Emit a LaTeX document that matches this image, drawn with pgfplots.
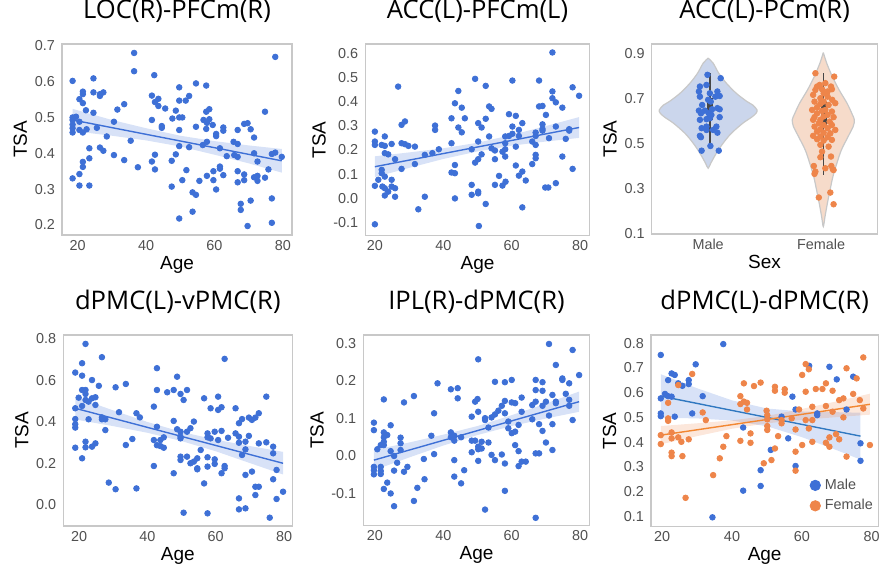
\documentclass[border=0pt]{standalone}
\usepackage{fontspec}
\setmainfont{Liberation Sans}
\newfontfamily\titlefont{Open Sans}
\usepackage{pgfplots}
\pgfplotsset{compat=1.18}
\definecolor{cblue}{RGB}{62,112,214}
\definecolor{corange}{RGB}{238,133,74}
\definecolor{mline}{RGB}{48,120,192}
\definecolor{oline}{RGB}{242,135,50}
\definecolor{framegray}{RGB}{200,200,200}
\definecolor{tickgray}{RGB}{80,80,80}
\definecolor{vblue}{RGB}{203,214,236}
\definecolor{vorange}{RGB}{246,219,202}
\definecolor{inner}{RGB}{70,70,70}
\pgfplotsset{
  panel/.style={scale only axis, anchor=south west,
    axis line style={draw=framegray, line width=0.6pt},
    tick style={draw=none},
    ticklabel style={font=\fontsize{7.2}{8}\selectfont, text=tickgray},
    label style={font=\fontsize{9.5}{11}\selectfont},
    title style={font=\titlefont\fontsize{12.8}{14}\selectfont, at={(0.5,1)}, anchor=base, yshift=6.5pt},
    /pgf/number format/assume math mode=true,
    yticklabel style={/pgf/number format/fixed, /pgf/number format/fixed zerofill, /pgf/number format/precision=1},
    ylabel=TSA,
    ylabel style={yshift=-3pt},
    xlabel style={yshift=4pt},
    xticklabel style={yshift=1pt},
  },
  agepanel/.style={panel, xtick={20,40,60,80}, xlabel=Age},
  scat/.style={only marks, mark=*, mark size=1.4pt, color=#1, forget plot},
  band/.style={fill=#1, fill opacity=0.2, draw=none, forget plot},
  rline/.style={color=#1, line width=0.7pt, no marks, forget plot},
}
\begin{document}
\begin{tikzpicture}
\useasboundingbox (0,0) rectangle (439.5pt,282.5pt);
% ---------- Panel 1 ----------
\begin{axis}[agepanel, at={(31pt,165pt)}, width=115pt, height=95.5pt,
  xmin=15.4, xmax=82.7, ymin=0.172, ymax=0.705, ytick={0.2,0.3,0.4,0.5,0.6,0.7},
  title={LOC(R)-PFCm(R)}]
\addplot[scat=cblue] coordinates {
(18.5,0.602)(18.5,0.500)(18.5,0.493)(18.5,0.480)(18.5,0.470)(18.5,0.458)(18.5,0.330)
(19.5,0.502)(20.5,0.551)(20.5,0.488)(20.5,0.465)(20.5,0.342)(20.5,0.310)
(21.5,0.572)(21.5,0.565)(21.5,0.540)(21.5,0.458)(21.5,0.376)(21.5,0.362)
(22.4,0.520)(22.6,0.467)(23.4,0.414)(23.4,0.386)(23.4,0.310)
(24.6,0.609)(24.6,0.570)(24.6,0.513)(25.6,0.471)
(26.5,0.565)(26.5,0.560)(26.5,0.416)(27.5,0.407)(27.5,0.570)
(28.5,0.447)(30.6,0.488)(30.6,0.395)(31.6,0.522)(33.6,0.537)(33.6,0.381)
(35.5,0.435)(36.5,0.680)(36.5,0.629)(37.6,0.361)
(41.7,0.561)(41.7,0.493)(41.7,0.377)(42.4,0.618)(42.6,0.543)(42.6,0.396)(42.6,0.355)
(43.6,0.552)(43.6,0.532)(44.6,0.476)(44.6,0.471)(45.6,0.525)
(47.5,0.379)(47.5,0.307)(47.7,0.497)(48.7,0.519)(48.7,0.397)
(49.7,0.584)(49.7,0.547)(49.7,0.500)(49.7,0.465)(49.7,0.420)(49.7,0.218)
(50.6,0.500)(50.6,0.325)(51.6,0.547)(51.8,0.353)(52.6,0.560)(52.6,0.417)
(53.6,0.291)(53.6,0.237)(54.6,0.595)(54.6,0.474)(54.6,0.284)(55.6,0.323)
(56.6,0.423)(56.8,0.493)(57.6,0.589)(57.6,0.516)(57.6,0.468)(57.8,0.432)(57.8,0.337)(57.8,0.485)
(58.5,0.523)(58.5,0.495)(59.5,0.479)(59.7,0.325)(59.7,0.350)
(60.5,0.454)(60.5,0.448)(60.5,0.299)(61.6,0.414)(61.6,0.363)(61.6,0.357)
(62.6,0.472)(62.6,0.463)(62.6,0.339)(63.6,0.392)
(65.6,0.432)(65.8,0.395)(66.8,0.465)(66.8,0.426)(66.8,0.390)(66.8,0.350)(66.8,0.319)
(67.7,0.259)(67.7,0.242)(68.7,0.482)(68.7,0.341)(68.7,0.325)(69.7,0.484)(69.7,0.197)
(70.6,0.467)(70.6,0.268)(71.6,0.444)(71.6,0.400)(71.6,0.333)
(72.6,0.377)(72.6,0.337)(72.6,0.323)(74.8,0.516)(74.8,0.332)(75.8,0.355)
(76.8,0.398)(76.8,0.274)(76.8,0.206)(77.8,0.669)(77.8,0.402)(79.7,0.390)
};
\addplot[band=cblue] coordinates {(18.5,0.524)(30,0.493)(40,0.470)(50,0.449)(60,0.434)(70,0.422)(79.7,0.412)
(79.7,0.346)(70,0.372)(60,0.396)(50,0.419)(40,0.436)(30,0.449)(18.5,0.462)};
\addplot[rline=cblue] coordinates {(18.5,0.493)(79.7,0.379)};
\end{axis}
% ---------- Panel 2 ----------
\begin{axis}[agepanel, at={(182.65pt,164.65pt)}, width=112.2pt, height=95.85pt,
  xmin=17.2, xmax=82.8, ymin=-0.154, ymax=0.638, ytick={-0.1,0,0.1,0.2,0.3,0.4,0.5,0.6},
  title={ACC(L)-PFCm(L)}]
\addplot[scat=cblue] coordinates {
(20,0.276)(20,0.235)(20,0.221)(20,0.052)(20,-0.107)(21,0.077)
(22,0.221)(22,0.118)(22,0.104)(22.2,0.049)
(22.9,0.256)(22.9,0.217)(22.9,0.187)(22.9,0.090)(22.9,0.042)(22.9,0.012)
(23.9,0.182)(23.9,0.028)(24.9,0.225)(24.9,0.077)(24.9,0.049)
(25.9,0.162)(25.9,0.042)(25.9,0.007)(26.8,0.462)
(27.8,0.304)(27.8,0.228)(27.8,0.122)(28.8,0.318)(28.8,0.224)(29.8,0.217)
(31.7,0.214)(31.7,0.142)(32.7,-0.045)(34.6,0.180)(34.6,0.007)(36.8,0.187)
(37.6,0.301)(37.6,0.283)(38.7,0.203)
(42.4,0.331)(42.4,0.228)(42.4,0.107)(43.4,0.393)(43.4,0.138)(43.4,0.104)(43.4,0.000)
(44.4,0.444)(44.4,0.293)(45.4,0.273)(45.4,0.375)(46.3,0.331)
(48.3,0.203)(48.3,0.056)(48.3,0.015)(49.3,0.494)(49.3,0.148)
(50.2,0.311)(50.2,0.235)(50.2,0.162)(50.2,0.028)(50.2,0.021)(50.4,-0.114)
(51.2,0.293)(51.2,0.182)(52.4,0.465)(52.4,0.329)(52.4,-0.023)
(53.4,0.256)(53.4,0.380)(54.1,0.370)(54.1,0.207)(55.1,0.198)(55.1,0.162)(55.1,0.056)
(56.3,0.093)(57.3,0.193)(58.1,0.203)(58.1,0.173)(58.1,0.228)(58.1,0.256)(57.3,0.053)(58.2,0.069)
(59.2,0.348)(59.2,0.258)(60.2,0.487)(60.2,0.297)(60.2,0.267)
(61.2,0.341)(61.2,0.214)(61.2,0.136)(62.1,0.283)(62.1,0.258)(62.1,0.094)
(63.1,0.311)(63.1,0.111)(63.1,-0.037)(64.1,0.074)
(66.0,0.235)(66.0,0.142)(67.0,0.272)(67.0,0.258)(67.0,0.221)(67.0,0.180)(67.0,0.166)
(68.0,0.380)(68.0,0.487)(69.0,0.382)(69.0,0.306)(69.0,0.287)(69.0,0.280)(70.0,0.345)
(69.8,0.045)(70.7,0.045)(70.9,0.249)(71.9,0.603)(71.9,0.442)(71.9,0.414)
(72.9,0.397)(72.9,0.297)(72.9,0.063)(74.8,0.375)(74.8,0.173)(75.8,0.246)
(76.8,0.286)(76.8,0.280)(77.8,0.459)(77.8,0.122)(79.7,0.424)
};
\addplot[band=cblue] coordinates {(20,0.174)(30,0.190)(40,0.207)(50,0.230)(60,0.262)(70,0.299)(79.7,0.336)
(79.7,0.250)(70,0.235)(60,0.218)(50,0.194)(40,0.163)(30,0.126)(20,0.088)};
\addplot[rline=cblue] coordinates {(20,0.131)(79.7,0.293)};
\end{axis}
% ---------- Panel 3 ----------
\begin{axis}[panel, at={(325.85pt,165.5pt)}, width=112.9pt, height=95pt,
  xmin=-0.5, xmax=1.5, ymin=0.097, ymax=0.941, ytick={0.1,0.3,0.5,0.7,0.9},
  xtick={0,1}, xticklabels={Male,Female}, xlabel=Sex,
  title={ACC(L)-PCm(R)}]
\addplot[fill=vblue, draw=framegray, line width=0.6pt, smooth, tension=0.5, forget plot] coordinates {
(0,0.878)(0.044,0.856)(0.094,0.811)(0.161,0.767)(0.249,0.722)(0.345,0.685)(0.395,0.670)(0.433,0.648)(0.424,0.633)(0.386,0.616)(0.307,0.589)(0.205,0.544)(0.132,0.5)(0.073,0.456)(0.023,0.411)(0,0.389)
(-0.023,0.411)(-0.073,0.456)(-0.132,0.5)(-0.205,0.544)(-0.307,0.589)(-0.386,0.616)(-0.424,0.633)(-0.433,0.648)(-0.395,0.670)(-0.345,0.685)(-0.249,0.722)(-0.161,0.767)(-0.094,0.811)(-0.044,0.856)(0,0.878)};
\addplot[fill=vorange, draw=framegray, line width=0.6pt, smooth, tension=0.5, forget plot] coordinates {
(1.02,0.903)(1.05,0.856)(1.10,0.796)(1.16,0.737)(1.23,0.678)(1.275,0.63)(1.295,0.604)(1.285,0.575)(1.24,0.53)(1.18,0.47)(1.14,0.411)(1.105,0.352)(1.08,0.293)(1.056,0.233)(1.035,0.174)(1.02,0.13)
(1.005,0.174)(0.984,0.233)(0.96,0.293)(0.935,0.352)(0.90,0.411)(0.86,0.47)(0.80,0.53)(0.755,0.575)(0.745,0.604)(0.765,0.63)(0.81,0.678)(0.88,0.737)(0.94,0.796)(0.99,0.856)(1.02,0.903)};
\addplot[inner, line width=0.8pt, forget plot] coordinates {(0.015,0.811)(0.015,0.5)};
\addplot[inner, line width=3pt, forget plot] coordinates {(0.015,0.700)(0.015,0.604)};
\addplot[inner, line width=0.8pt, forget plot] coordinates {(1.023,0.811)(1.023,0.359)};
\addplot[inner, line width=3pt, forget plot] coordinates {(1.023,0.685)(1.023,0.574)};
\addplot[scat=cblue] coordinates {
(-0.006,0.804)(0.111,0.789)(-0.015,0.759)(-0.073,0.752)(-0.082,0.730)(0.015,0.722)(0.082,0.730)
(0.102,0.710)(0.064,0.707)(-0.073,0.707)(0,0.693)(0.023,0.685)(-0.053,0.670)(0.082,0.656)
(-0.082,0.645)(-0.029,0.645)(0.035,0.651)(0.102,0.651)(0.006,0.633)(-0.064,0.633)(0.029,0.626)
(0.102,0.616)(-0.015,0.607)(-0.073,0.604)(0.015,0.611)(-0.015,0.574)(0.073,0.574)(-0.058,0.567)
(0.044,0.559)(-0.015,0.559)(0.082,0.547)(-0.073,0.533)(-0.064,0.527)(0.020,0.488)(-0.058,0.467)(0.094,0.467)
};
\addplot[scat=corange] coordinates {
(0.950,0.811)(1.117,0.796)(0.988,0.759)(1.038,0.767)(0.965,0.752)(1.088,0.752)(1.009,0.740)
(0.950,0.737)(1.058,0.730)(1.096,0.740)(1.023,0.722)(0.930,0.715)(1.058,0.707)(0.994,0.700)
(1.099,0.693)(0.942,0.685)(1.023,0.685)(1.126,0.678)(0.994,0.675)(1.067,0.670)(0.965,0.660)
(1.038,0.648)(0.921,0.648)(1.009,0.644)(1.096,0.641)(0.965,0.633)(1.058,0.626)(0.942,0.616)
(1.023,0.619)(1.111,0.616)(0.994,0.604)(0.930,0.604)(1.076,0.596)(0.980,0.589)(1.023,0.581)
(1.096,0.581)(0.942,0.574)(1.058,0.567)(0.994,0.562)(1.126,0.559)(0.965,0.552)(1.023,0.547)
(1.082,0.544)(0.930,0.533)(0.994,0.530)(1.058,0.527)(0.965,0.518)(1.023,0.512)(1.096,0.515)
(0.994,0.493)(1.067,0.485)(1.009,0.463)(1.088,0.441)(0.994,0.438)(0.936,0.399)(1.091,0.399)
(1.105,0.384)(0.950,0.374)(1.038,0.389)(0.942,0.364)(1.111,0.381)(0.980,0.259)(1.082,0.281)(1.111,0.229)
};
\end{axis}
% ---------- Panel 4 ----------
\begin{axis}[agepanel, at={(31.65pt,19.5pt)}, width=114.5pt, height=95.5pt,
  xmin=15.4, xmax=82.4, ymin=-0.101, ymax=0.819, ytick={0,0.2,0.4,0.6,0.8},
  title={dPMC(L)-vPMC(R)}]
\addplot[scat=cblue] coordinates {
(18.9,0.638)(18.9,0.466)(18.9,0.414)(18.9,0.389)(18.9,0.373)(18.9,0.276)(19.9,0.517)
(20.9,0.683)(20.9,0.623)(20.9,0.554)(20.9,0.477)(20.9,0.225)
(21.9,0.776)(21.9,0.554)(21.9,0.535)(21.9,0.506)(21.9,0.305)(21.9,0.278)
(22.8,0.498)(22.8,0.413)(23.8,0.602)(23.8,0.514)(23.8,0.281)
(24.8,0.519)(24.8,0.482)(24.8,0.297)(25.8,0.574)
(26.7,0.712)(26.7,0.422)(26.7,0.413)(27.7,0.413)(27.7,0.361)(28.7,0.108)
(30.7,0.567)(30.7,0.076)(31.7,0.447)(33.7,0.583)(33.7,0.289)(35.6,0.318)
(36.8,0.442)(36.8,0.080)(37.8,0.422)
(41.9,0.474)(41.9,0.313)(41.9,0.188)(42.8,0.659)(42.8,0.554)(42.8,0.377)(42.8,0.288)
(43.8,0.313)(43.8,0.284)(44.8,0.326)(44.8,0.276)(45.8,0.543)
(47.7,0.554)(47.7,0.405)(47.7,0.153)(48.7,0.618)(48.7,0.365)
(49.7,0.535)(49.7,0.353)(49.7,0.321)(49.7,0.329)(49.7,0.233)(49.7,0.217)
(50.6,0.506)(50.6,-0.037)(51.6,0.554)(51.6,0.353)(51.6,0.233)
(52.6,0.370)(52.6,0.201)(53.6,0.209)(53.6,0.402)(54.6,0.225)(54.6,0.177)(54.6,0.172)
(55.6,0.265)(56.6,0.514)(56.6,0.104)
(57.6,0.345)(57.6,0.326)(57.6,0.230)(57.6,0.185)(57.6,-0.040)(58.5,0.466)(58.5,0.321)
(59.7,0.353)(59.7,0.220)(59.7,0.198)(60.7,0.522)(60.7,0.458)(60.7,0.313)
(61.7,0.471)(61.7,0.357)(61.7,0.153)(62.6,0.704)(62.6,0.188)(62.6,0.177)(63.6,0.324)
(65.8,0.466)(65.8,0.345)(66.8,0.394)(66.8,0.329)(66.8,0.300)(66.8,0.032)(66.8,-0.021)
(67.7,0.414)(67.7,0.241)(68.7,0.305)(68.7,0.268)(68.7,0.145)(68.7,-0.016)
(69.7,0.421)(69.7,0.333)(70.6,0.410)(70.6,0.161)(71.6,0.421)(71.6,0.088)(71.6,0.048)
(72.6,0.442)(72.6,0.297)(72.6,0.088)(74.8,0.522)(74.8,0.302)(75.8,-0.061)
(76.8,0.281)(76.8,0.249)(76.8,0.124)(77.8,0.169)(77.8,0.029)(79.7,0.064)
};
\addplot[band=cblue] coordinates {(18.9,0.520)(30,0.456)(40,0.400)(50,0.352)(60,0.315)(70,0.284)(79.7,0.256)
(79.7,0.147)(70,0.202)(60,0.259)(50,0.308)(40,0.348)(30,0.380)(18.9,0.412)};
\addplot[rline=cblue] coordinates {(18.9,0.466)(79.7,0.201)};
\end{axis}
% ---------- Panel 5 ----------
\begin{axis}[agepanel, at={(181.65pt,19.65pt)}, width=113.2pt, height=95.35pt,
  xmin=16.6, xmax=82.8, ymin=-0.187, ymax=0.322, ytick={-0.1,0,0.1,0.2,0.3},
  title={IPL(R)-dPMC(R)}]
\addplot[scat=cblue] coordinates {
(19.7,0.088)(19.7,0.068)(19.7,-0.030)(19.7,-0.039)(19.7,-0.050)(20.7,0.017)
(21.7,0.028)(21.7,-0.030)(21.7,-0.041)(21.7,-0.049)
(22.6,0.150)(22.6,0.062)(22.6,0.049)(22.6,0.037)(22.6,0.028)(22.6,-0.089)
(23.6,0.055)(23.6,-0.072)(24.6,0.081)(24.6,0.012)(24.6,-0.101)
(25.6,-0.001)(25.6,-0.040)(25.6,-0.135)(26.5,-0.019)
(27.5,0.048)(27.5,0.033)(27.5,0.015)(28.5,0.142)(28.5,-0.043)(29.5,-0.030)
(31.4,0.159)(31.4,-0.121)(32.4,-0.086)(34.3,-0.009)(34.5,-0.063)
(36.5,0.053)(37.3,0.113)(37.3,0.004)(38.3,0.193)
(42.2,0.177)(42.2,0.062)(42.2,0.049)(43.2,0.053)(43.2,0.040)(43.2,-0.012)(43.2,-0.056)
(44.2,0.180)(44.2,0.153)(45.2,0.049)(45.2,-0.074)(46.1,-0.039)
(48.3,0.104)(48.3,0.040)(48.3,0.009)(49.3,0.144)(49.3,0.040)
(50.0,0.151)(50.2,0.257)(50.2,0.117)(50.2,0.024)(50.2,0.017)(50.2,-0.014)
(51.2,0.019)(51.2,0.037)(52.2,0.100)(52.2,0.095)(52.2,-0.144)
(53.2,0.075)(53.2,0.035)(54.1,0.102)(54.1,0.002)
(55.1,0.197)(55.1,0.110)(55.1,-0.012)(56.1,0.120)(57.1,0.133)(57.1,0.003)
(58.0,0.196)(58.0,0.146)(58.0,0.113)(58.0,-0.021)(58.0,-0.094)
(59.0,0.091)(59.0,0.073)(60.0,0.202)(60.0,0.142)(60.0,0.060)
(61.0,0.140)(61.0,0.064)(61.0,0.028)(62.0,0.082)(62.0,0.012)(62.0,-0.028)
(62.9,0.155)(62.9,0.117)(62.9,-0.016)(64.1,-0.016)
(66.0,0.097)(66.0,0.135)(67.0,0.202)(67.0,0.175)(67.0,0.144)(67.0,0.006)(67.0,-0.166)
(68.0,0.006)(68.0,0.084)(69.0,0.196)(69.0,0.173)(69.0,0.133)(69.0,0.066)
(70.0,0.144)(70.0,0.035)(70.9,0.298)(70.9,0.107)
(71.9,0.162)(71.9,0.084)(71.9,0.015)(72.9,0.242)(72.9,0.144)(72.9,0.140)
(74.8,0.206)(74.8,0.202)(75.8,0.165)(76.8,0.193)(76.8,0.149)(76.8,0.133)
(77.8,0.282)(77.8,0.095)(79.7,0.215)
};
\addplot[band=cblue] coordinates {(19.7,0.015)(30,0.035)(40,0.056)(50,0.079)(60,0.108)(70,0.139)(79.7,0.171)
(79.7,0.117)(70,0.099)(60,0.079)(50,0.055)(40,0.027)(30,-0.005)(19.7,-0.039)};
\addplot[rline=cblue] coordinates {(19.7,-0.012)(79.7,0.144)};
\end{axis}
% ---------- Panel 6 ----------
\begin{axis}[agepanel, at={(325.5pt,19.15pt)}, width=113.65pt, height=95.85pt,
  xmin=16.8, xmax=81.9, ymin=0.057, ymax=0.834, ytick={0.1,0.2,0.3,0.4,0.5,0.6,0.7,0.8},
  title={dPMC(L)-dPMC(R)},
  legend style={at={(0.67,0.03)}, anchor=south west, draw=none, fill=none,
    font=\fontsize{7.2}{8}\selectfont, text=tickgray, row sep=-0.5pt,
    legend cell align=left},
  legend image code/.code={\fill (0.25em,0) circle (2.6pt);}]
\addplot[scat=cblue] coordinates {
(19.6,0.753)(19.6,0.577)(19.6,0.516)(19.6,0.505)(20.8,0.595)(21.7,0.651)(21.7,0.586)
(22.7,0.678)(22.7,0.584)(23.6,0.672)(23.6,0.503)(24.6,0.638)(25.8,0.628)
(27.6,0.651)(27.6,0.635)(28.6,0.516)(29.6,0.715)(31.6,0.586)(34.4,0.095)(37.5,0.797)
(43.2,0.459)(43.2,0.203)(48.2,0.286)(48.2,0.222)(51.1,0.368)(54.2,0.503)
(56.1,0.415)(57.3,0.584)(58.2,0.532)(58.2,0.303)(62.1,0.709)(64.4,0.509)(64.4,0.516)
(67.9,0.705)(70.0,0.654)(72.8,0.532)(74.7,0.665)(76.8,0.395)(76.8,0.324)
};
\addplot[scat=corange] coordinates {
(19.6,0.428)(19.6,0.392)(21.7,0.559)(21.7,0.496)(21.7,0.486)
(22.7,0.439)(22.7,0.415)(22.7,0.357)(22.7,0.343)(24.6,0.631)(24.6,0.419)
(25.5,0.401)(25.8,0.343)(26.7,0.174)(27.6,0.411)(28.6,0.676)(31.6,0.520)(32.5,0.489)
(34.6,0.266)(36.5,0.334)(37.5,0.381)(38.4,0.424)
(42.4,0.586)(42.4,0.554)(42.4,0.405)(43.4,0.638)(43.4,0.564)(44.3,0.559)(44.3,0.532)
(45.3,0.435)(45.3,0.397)(46.3,0.627)(48.2,0.641)(49.1,0.314)
(49.9,0.527)(50.1,0.509)(50.1,0.492)(50.1,0.465)(50.1,0.449)(51.3,0.327)
(52.3,0.624)(52.3,0.608)(52.3,0.374)(53.2,0.424)(54.2,0.489)(54.2,0.476)
(55.1,0.614)(55.1,0.600)(57.1,0.496)(58.2,0.451)(58.2,0.361)(58.2,0.284)
(59.2,0.532)(60.1,0.388)(60.1,0.672)(61.1,0.716)(61.1,0.604)(61.1,0.489)
(62.0,0.695)(62.0,0.455)(63.0,0.489)(63.0,0.401)(63.0,0.543)(64.0,0.615)
(65.9,0.615)(66.9,0.638)(66.9,0.546)(66.9,0.397)(67.9,0.419)(67.9,0.381)
(68.8,0.608)(68.8,0.523)(69.8,0.432)(70.7,0.570)(70.7,0.411)
(71.9,0.577)(71.9,0.500)(72.8,0.699)(72.8,0.341)(74.7,0.595)(75.7,0.658)
(76.6,0.570)(77.6,0.743)(77.6,0.536)(79.5,0.388)
};
\addplot[band=cblue] coordinates {(19.6,0.675)(30,0.618)(40,0.569)(50,0.536)(60,0.524)(70,0.521)(76.8,0.519)
(76.8,0.329)(70,0.367)(60,0.420)(50,0.464)(40,0.487)(30,0.496)(19.6,0.498)};
\addplot[band=corange] coordinates {(19.6,0.465)(30,0.476)(40,0.488)(50,0.506)(60,0.534)(70,0.565)(79.5,0.596)
(79.5,0.511)(70,0.501)(60,0.490)(50,0.476)(40,0.454)(30,0.424)(19.6,0.391)};
\addplot[rline=mline] coordinates {(19.6,0.586)(76.8,0.424)};
\addplot[rline=oline] coordinates {(19.6,0.428)(79.5,0.553)};
\addlegendimage{cblue}
\addlegendentry{Male}
\addlegendimage{corange}
\addlegendentry{Female}
\end{axis}
\end{tikzpicture}
\end{document}
